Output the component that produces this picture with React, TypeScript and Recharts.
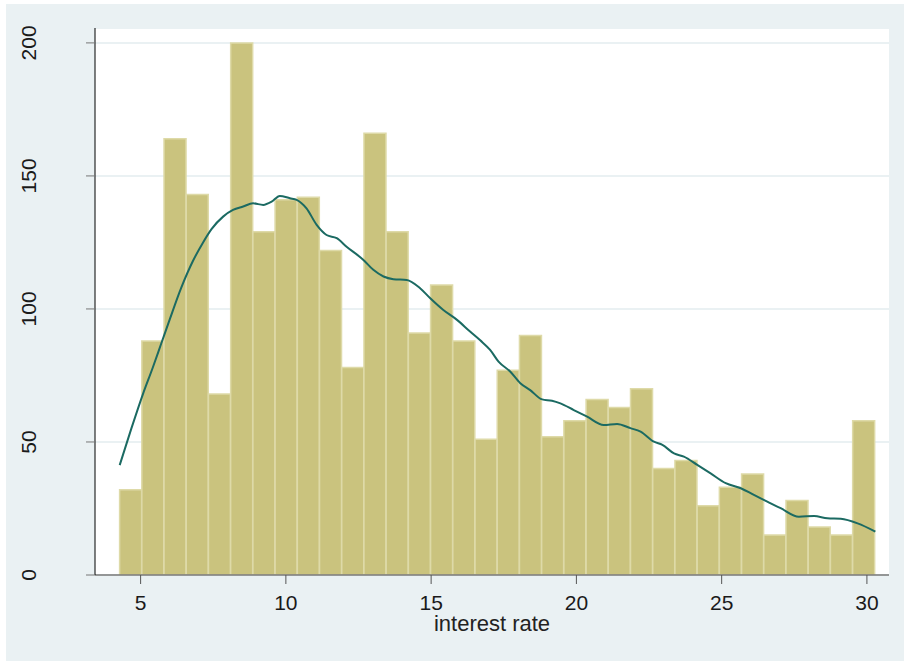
import React from 'react'
import { ComposedChart, Bar, Line, XAxis, YAxis, CartesianGrid, Label } from 'recharts'

// histogram bins (bin midpoints) and frequencies
const binMid = [4.659, 5.424, 6.188, 6.953, 7.717, 8.482, 9.247, 10.011, 10.776, 11.54, 12.305, 13.07, 13.834, 14.599, 15.363, 16.128, 16.893, 17.657, 18.422, 19.186, 19.951, 20.716, 21.48, 22.245, 23.009, 23.774, 24.539, 25.303, 26.068, 26.832, 27.597, 28.362, 29.126, 29.891]
const binCount = [32, 88, 164, 143, 68, 200, 129, 141, 142, 122, 78, 166, 129, 91, 109, 88, 51, 77, 90, 52, 58, 66, 63, 70, 40, 43, 26, 33, 38, 15, 28, 18, 15, 58]

// kernel density, scaled to frequency
const densX = [4.28, 4.68, 5.08, 5.42, 5.71, 6.0, 6.4, 6.8, 7.15, 7.44, 7.84, 8.18, 8.53, 8.87, 9.22, 9.51, 9.79, 10.14, 10.37, 10.71, 11.06, 11.4, 11.75, 12.09, 12.67, 13.01, 13.36, 13.7, 14.16, 14.62, 14.97, 15.42, 15.89, 16.34, 16.69, 17.03, 17.32, 17.72, 18.07, 18.41, 18.82, 19.16, 19.45, 19.91, 20.37, 20.94, 21.4, 21.86, 22.21, 22.67, 22.96, 23.36, 23.7, 24.16, 24.62, 25.14, 25.66, 26.11, 26.57, 27.03, 27.66, 28.18, 28.64, 29.1, 29.68, 30.29]
const densY = [41.3, 55, 68, 78, 87, 96, 108, 118, 125, 130, 134.7, 137.2, 138.5, 139.7, 139.1, 140.3, 142.5, 141.6, 141, 137.8, 131.6, 127.8, 126.6, 123.4, 118.4, 114.7, 112.2, 111.2, 110.9, 107.8, 104, 99.6, 95.9, 91.5, 88.2, 84.6, 80.2, 76.5, 72.1, 69.5, 66, 65.5, 64.5, 62, 59.5, 56.4, 56.8, 55.2, 53.9, 50.1, 48.9, 45.7, 44.5, 41.4, 38.2, 34.5, 32.6, 30.1, 27.6, 25.1, 21.9, 22.2, 21.3, 21.1, 19.4, 16.3]

const xTicks = [5, 10, 15, 20, 25, 30]
const yTicks = [0, 50, 100, 150, 200]

const bins = binMid.map((x, i) => ({ x, count: binCount[i] }))
const density = densX.map((x, i) => ({ x, dens: densY[i] }))

const FONT = '"Liberation Sans", Arial, sans-serif'

function YTick(props: any) {
  const { y, payload } = props
  return (
    <text transform={`translate(30, ${y}) rotate(-90)`} textAnchor="middle" fontSize={21} fontFamily={FONT} fill="#1a1a1a">
      {payload.value}
    </text>
  )
}

export default function App() {
  return (
    <div style={{ position: 'fixed', left: 0, top: 0, width: 904, height: 662, background: '#fff' }}>
      <div style={{ position: 'absolute', left: 6, top: 4, width: 898, height: 657, background: '#EAF1F3' }}>
        <ComposedChart width={898} height={657} data={bins} margin={{ top: 24, right: 15, left: 0, bottom: 0 }} barCategoryGap={0}>
          <CartesianGrid vertical={false} fill="#fff" stroke="#EAF1F3" strokeWidth={2} />
          <XAxis
            dataKey="x"
            type="number"
            domain={[3.43, 30.76]}
            allowDataOverflow
            ticks={xTicks}
            height={86}
            tickSize={9}
            tickMargin={11}
            axisLine={{ stroke: '#777', strokeWidth: 1.5 }}
            tickLine={{ stroke: '#555' }}
            tick={{ fontSize: 21, fontFamily: FONT, fill: '#1a1a1a' }}
          >
            <Label value="interest rate" position="insideTop" offset={40} fontSize={22} fontFamily={FONT} fill="#222" />
          </XAxis>
          <XAxis xAxisId="dens" dataKey="x" type="number" domain={[3.43, 30.76]} allowDataOverflow hide />
          <YAxis
            type="number"
            domain={[0, 205.6]}
            allowDataOverflow
            ticks={yTicks}
            width={89}
            tickSize={9}
            axisLine={{ stroke: '#000' }}
            tickLine={{ stroke: '#777' }}
            tick={<YTick />}
          />
          <Bar dataKey="count" fill="#CAC37E" stroke="#DEDAA8" strokeWidth={1.5} isAnimationActive={false} />
          <Line
            xAxisId="dens"
            data={density}
            dataKey="dens"
            type="monotone"
            stroke="#1B6A62"
            strokeWidth={2}
            dot={false}
            isAnimationActive={false}
          />
        </ComposedChart>
      </div>
    </div>
  )
}
